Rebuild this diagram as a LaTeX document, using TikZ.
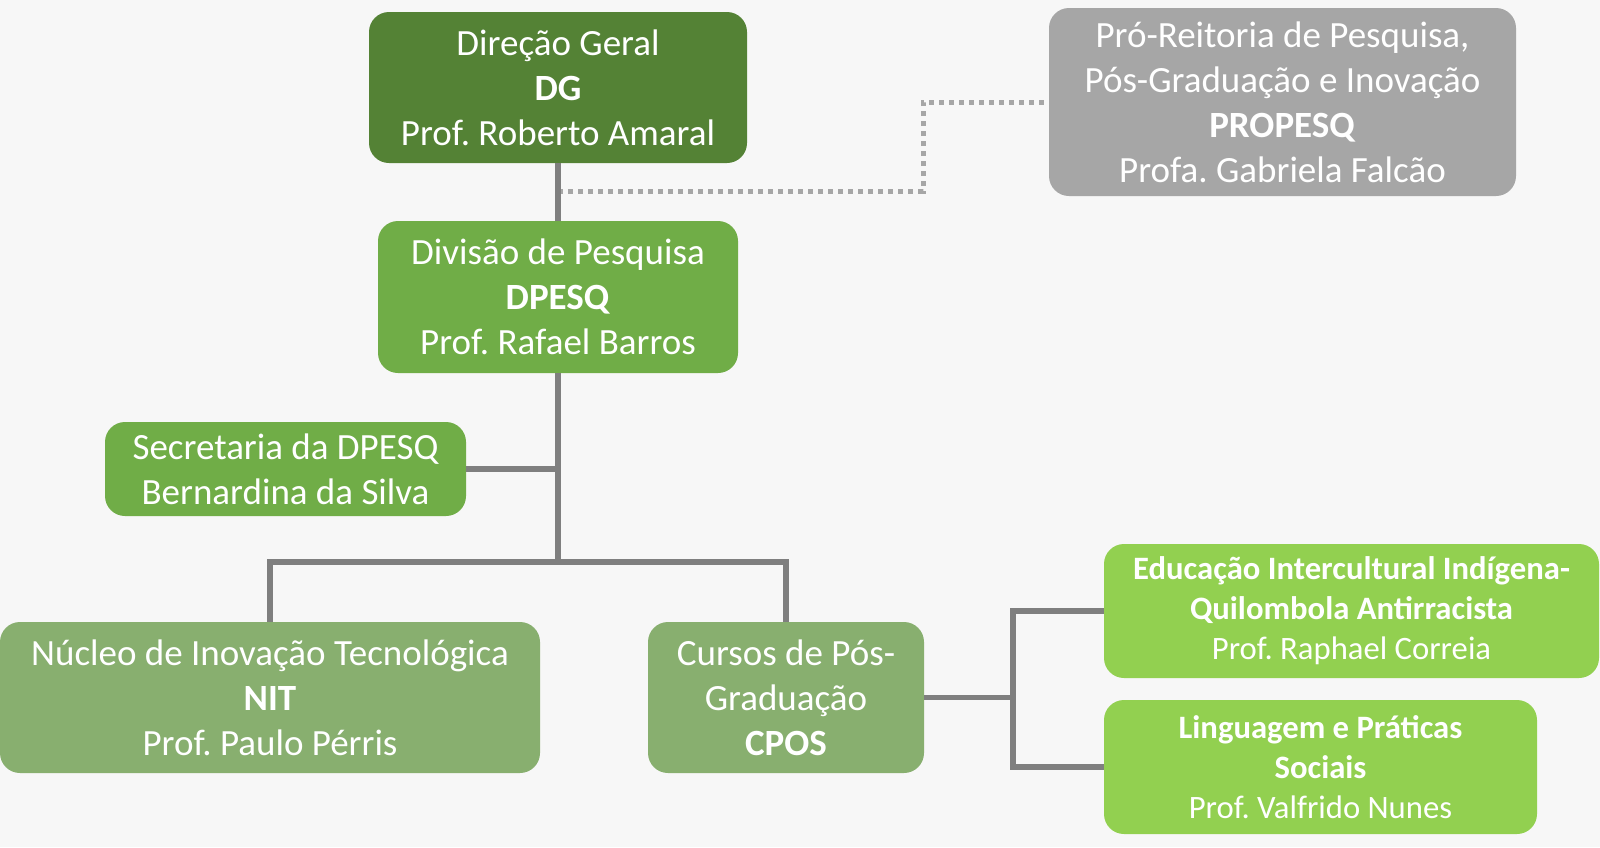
\documentclass[tikz,border=0pt]{standalone}
\usepackage{fontspec}
\setmainfont{Carlito}
\usepackage{tikz}
\frenchspacing

\definecolor{dgGreen}{HTML}{548235}
\definecolor{divGreen}{HTML}{70AD47}
\definecolor{unitGreen}{HTML}{88AF6F}
\definecolor{courseGreen}{HTML}{92D050}
\definecolor{proGray}{HTML}{A6A6A6}
\definecolor{lineGray}{HTML}{7F7F7F}
\definecolor{paper}{HTML}{F7F7F7}

\tikzset{
  orgbox/.style={rounded corners=15pt, inner sep=0pt, align=center, text=white,
    font=\fontsize{27.75}{33.75}\selectfont},
  coursebox/.style={orgbox, fill=courseGreen, font=\fontsize{24.5}{30}\selectfont},
  link/.style={draw=lineGray, line width=4pt},
  dotlink/.style={draw=proGray, line width=3.75pt, dash pattern=on 3.75pt off 3.75pt}
}

\begin{document}
\begin{tikzpicture}[x=0.75pt,y=0.75pt,yscale=-1,xscale=1]
%set diagram left start at 0, and has height of 847
\fill[paper] (0,0) rectangle (1600,847);
\useasboundingbox (0,0) rectangle (1600,847);

% Text Node
\draw (558,87.5) node (dg) [orgbox, fill=dgGreen, minimum width=283.5pt, minimum height=113.25pt] {Direção Geral\\\textbf{DG}\\Prof. Roberto Amaral};
% Text Node
\draw (1282.5,102) node (propesq) [orgbox, fill=proGray, minimum width=350.25pt, minimum height=141pt] {Pró-Reitoria de Pesquisa,\\Pós-Graduação e Inovação\\\textbf{PROPESQ}\\Profa. Gabriela Falcão};
% Text Node
\draw (558,297) node (dpesq) [orgbox, fill=divGreen, minimum width=270pt, minimum height=114pt] {Divisão de Pesquisa\\\textbf{DPESQ}\\Prof. Rafael Barros};
% Text Node
\draw (285.5,469) node (sec) [orgbox, fill=divGreen, minimum width=270.75pt, minimum height=70.5pt] {Secretaria da DPESQ\\Bernardina da Silva};
% Text Node
\draw (270,697.5) node (nit) [orgbox, fill=unitGreen, minimum width=405pt, minimum height=113.25pt] {Núcleo de Inovação Tecnológica\\\textbf{NIT}\\Prof. Paulo Pérris};
% Text Node
\draw (786,697.5) node (cpos) [orgbox, fill=unitGreen, minimum width=207pt, minimum height=113.25pt] {Cursos de Pós-\\Graduação\\\textbf{CPOS}};
% Text Node
\draw (1351.5,611) node (eii) [coursebox, minimum width=371.25pt, minimum height=100.5pt] {\textbf{Educação Intercultural Indígena-}\\\textbf{Quilombola Antirracista}\\Prof. Raphael Correia};
% Text Node
\draw (1320.5,767) node (lps) [coursebox, minimum width=324.75pt, minimum height=100.5pt] {\textbf{Linguagem e Práticas}\\\textbf{Sociais}\\Prof. Valfrido Nunes};

% Connection
\coordinate (bend) at (923,191);
\draw [dotlink] (dg.south |- bend) -- (bend) |- (propesq.west);
% Connection
\draw [link] (dg.south) -- (dpesq.north);
% Connection
\coordinate (bar) at (558,562);
\draw [link] (dpesq.south) -- (bar);
% Connection
\draw [link] (sec.east) -- (sec.east -| bar);
% Connection
\draw [link] (nit.north) |- (bar) -| (cpos.north);
% Connection
\coordinate (split) at (1013,697.5);
\draw [link] (cpos.east) -- (split);
% Connection
\draw [link] (eii.west) -| (split) |- (lps.west);

\end{tikzpicture}
\end{document}
